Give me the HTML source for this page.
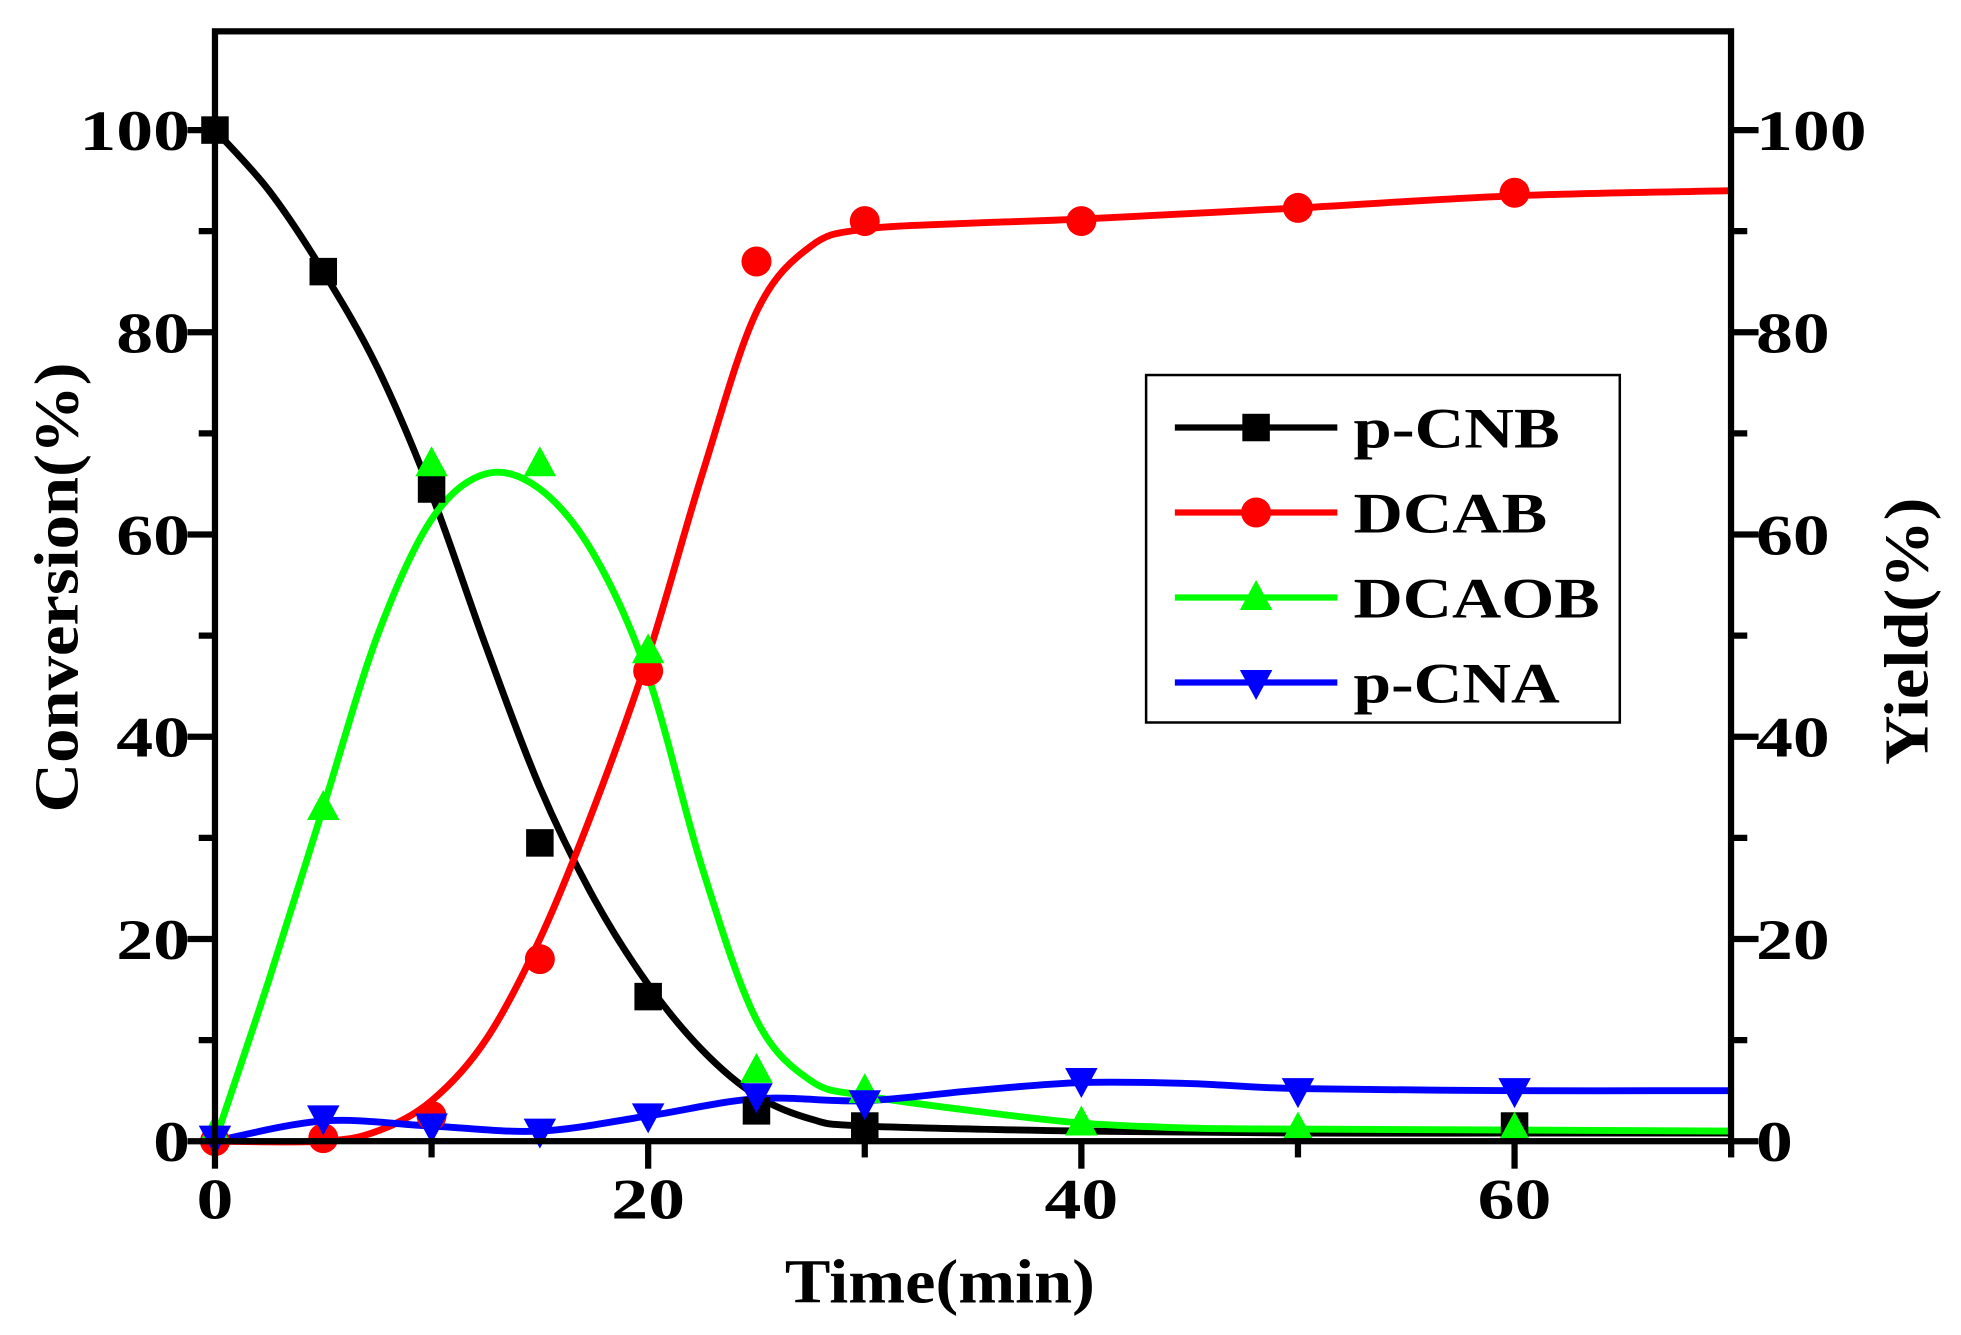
<!DOCTYPE html>
<html><head><meta charset="utf-8"><style>body{margin:0;background:#fff}svg{display:block}</style></head>
<body>
<svg id="s" width="1961" height="1335" viewBox="0 0 1569 1068" xmlns="http://www.w3.org/2000/svg" font-family="Liberation Serif, serif" font-weight="bold">
<rect width="1569" height="1068" fill="#fff"/>
<g id="curves" fill="none" stroke-width="5.5"></g>
<g id="marks"></g>
<rect x="172" y="25" width="1213" height="888" fill="none" stroke="#000" stroke-width="5"/>
<g id="ticks" stroke="#000" stroke-width="5"></g>
<g font-size="46" fill="#000">
<g text-anchor="end" id="yl"></g>
<g text-anchor="start" id="yr"></g>
<g text-anchor="middle" id="xl"></g>
<text x="628" y="1042" font-size="50" textLength="248" lengthAdjust="spacingAndGlyphs">Time(min)</text>
<text transform="translate(62,650) rotate(-90)" font-size="50" textLength="360" lengthAdjust="spacingAndGlyphs">Conversion(%)</text>
<text transform="translate(1542,612) rotate(-90)" font-size="50" textLength="214" lengthAdjust="spacingAndGlyphs">Yield(%)</text>
</g>
<rect x="917" y="300" width="379" height="278" fill="#fff" stroke="#000" stroke-width="2"/>
<g id="leg" font-size="46"></g>
</svg>
<script>
const X=t=>172+t*17.33, Y=v=>913-v*8.09, NS="http://www.w3.org/2000/svg";
function el(p,tag,a,txt){const e=document.createElementNS(NS,tag);for(const k in a)e.setAttribute(k,a[k]);if(txt!=null)e.textContent=txt;document.getElementById(p).appendChild(e);return e;}
function cr(pts){pts=pts.map(p=>[X(p[0]),Y(p[1])]);let d="M"+pts[0];for(let i=0;i<pts.length-1;i++){const p0=pts[i-1]||pts[i],p1=pts[i],p2=pts[i+1],p3=pts[i+2]||p2;const c1=[p1[0]+(p2[0]-p0[0])/6,p1[1]+(p2[1]-p0[1])/6],c2=[p2[0]-(p3[0]-p1[0])/6,p2[1]-(p3[1]-p1[1])/6];d+="C"+c1+" "+c2+" "+p2;}return d;}
const S=[
{c:"#000",n:"p-CNB",w:165,m:"sq",curve:[[0,100],[2.5,94],[5,86],[7.5,76.5],[10,64],[12.5,49],[15,35],[17.5,24],[20,15.5],[22.5,9],[25,4.5],[27.5,2.2],[30,1.5],[40,1],[50,0.8],[60,0.8],[70,0.8]],
 pts:[[0,100],[5,86],[10,64.5],[15,29.5],[20,14.3],[25,3],[30,1.5],[60,1.5]]},
{c:"#f00",n:"DCAB",w:155,m:"ci",curve:[[0,0],[5,0],[7.5,1],[10,4],[12.5,10],[15,20],[17.5,33],[20,48],[22.5,66],[25,82],[27.5,88.5],[30,90.2],[35,90.8],[40,91.2],[50,92.3],[60,93.5],[70,94]],
 pts:[[0,0],[5,0.3],[10,2.5],[15,18],[20,46.5],[25,87],[30,91],[40,91],[50,92.3],[60,93.8]]},
{c:"#0f0",n:"DCAOB",w:197,m:"tu",curve:[[0,0],[2.5,16],[5,33],[7.5,50],[10,61.5],[12.5,66],[15,64.5],[17.5,58],[20,46],[22.5,27],[25,12],[27.5,6],[30,4.5],[35,3],[40,1.8],[45,1.3],[50,1.2],[60,1.1],[70,1]],
 pts:[[0,1],[5,33],[10,67],[15,67],[20,48.5],[25,7],[30,5],[40,1.8],[50,1.2],[60,1.2]]},
{c:"#00f",n:"p-CNA",w:165,m:"td",curve:[[0,0],[5,2],[10,1.5],[15,1],[20,2.5],[25,4.2],[30,4],[35,5],[40,5.8],[45,5.7],[50,5.2],[60,5],[70,5]],
 pts:[[0,0.3],[5,2.3],[10,1.5],[15,1],[20,2.5],[25,4.5],[30,3.8],[40,6],[50,5],[60,5]]}];
function mk(p,m,x,y,c){if(m=="sq")el(p,"rect",{x:x-11,y:y-11,width:22,height:22,fill:c});
else if(m=="ci")el(p,"circle",{cx:x,cy:y,r:12,fill:c});
else if(m=="tu")el(p,"polygon",{points:`${x},${y-14} ${x-13},${y+10} ${x+13},${y+10}`,fill:c});
else el(p,"polygon",{points:`${x},${y+14} ${x-13},${y-10} ${x+13},${y-10}`,fill:c});}
S.forEach(s=>{el("curves","path",{d:cr(s.curve),stroke:s.c});s.pts.forEach(p=>mk("marks",s.m,X(p[0]),Y(p[1]),s.c));});
S.forEach((s,i)=>{const y=342+i*68;el("leg","line",{x1:940,x2:1070,y1:y,y2:y,stroke:s.c,"stroke-width":5});mk("leg",s.m,1005,y,s.c);el("leg","text",{x:1083,y:y+16,textLength:s.w,lengthAdjust:"spacingAndGlyphs"},s.n);});
const tw=v=>String(v).length*29.5;
for(let v=0;v<=100;v+=10){const y=Y(v),L=v%20==0?22:13;el("ticks","line",{x1:172-L,x2:172,y1:y,y2:y});el("ticks","line",{x1:1385,x2:1385+L,y1:y,y2:y});
 if(v%20==0){el("yl","text",{x:152,y:y+16,textLength:tw(v),lengthAdjust:"spacingAndGlyphs"},v);el("yr","text",{x:1405,y:y+16,textLength:tw(v),lengthAdjust:"spacingAndGlyphs"},v);}}
for(let t=0;t<=70;t+=10){const x=X(t),L=t%20==0?22:13;el("ticks","line",{x1:x,x2:x,y1:913,y2:913+L});if(t%20==0)el("xl","text",{x:x,y:975,textLength:tw(t),lengthAdjust:"spacingAndGlyphs"},t);}
</script>
</body></html>
